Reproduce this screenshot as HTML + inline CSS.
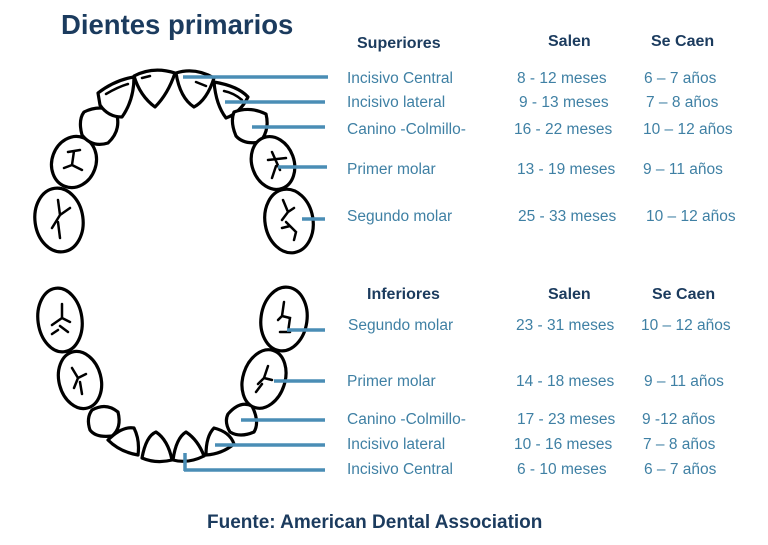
<!DOCTYPE html>
<html><head><meta charset="utf-8"><style>
body{margin:0;background:#fff;}
svg{display:block;}
.t{font-family:"Liberation Sans",sans-serif;font-size:15.5px;fill:#3f80a4;}
.h{font-family:"Liberation Sans",sans-serif;font-size:16px;font-weight:bold;fill:#1b3b5e;}
.tooth{fill:#fff;stroke:#000;stroke-width:3.2;stroke-linejoin:round;}
.c{fill:none;stroke:#000;stroke-width:2.5;stroke-linecap:round;}
.ln{stroke:#4a8db5;stroke-width:3.5;}
</style></head><body>
<svg width="768" height="545" viewBox="0 0 768 545">
<text x="61" y="34" style="font-family:'Liberation Sans',sans-serif;font-size:27.5px;font-weight:bold;fill:#1b3b5e">Dientes primarios</text>

<!-- upper teeth -->
<ellipse class="tooth" cx="59" cy="220" rx="24" ry="32" transform="rotate(-8 59 220)"/>
<path class="c" d="M58 200 L60 215 L52 228 M60 215 L70 208 M58 222 L60 238"/>
<ellipse class="tooth" cx="74" cy="162" rx="22" ry="26" transform="rotate(20 74 162)"/>
<path class="c" d="M68 152 L80 150 M74 151 L72 165 L64 168 M72 165 L82 170"/>
<path class="tooth" d="M84 112 Q100 104 116 112 Q122 130 108 143 Q92 148 82 135 Q78 120 84 112Z"/>
<path class="tooth" d="M98 93 Q115 80 134 77 Q134 100 122 117 Q108 117 100 105Z"/>
<path class="c" d="M106 94 Q118 87 128 84"/>
<path class="tooth" d="M134 76 Q153 66 175 73 Q168 94 155 107 Q140 96 134 76Z"/>
<path class="c" d="M142 78 L150 76"/>
<path class="tooth" d="M176 73 Q195 67 214 78 Q207 100 194 107 Q180 98 176 73Z"/>
<path class="c" d="M196 82 L206 86"/>
<path class="tooth" d="M214 82 Q238 86 248 97 Q240 113 226 118 Q216 105 214 82Z"/>
<path class="c" d="M224 91 Q234 93 242 100"/>
<path class="tooth" d="M234 112 Q250 106 266 114 Q270 130 260 142 Q244 145 236 136 Q230 122 234 112Z"/>
<ellipse class="tooth" cx="273" cy="163" rx="21" ry="27" transform="rotate(-20 273 163)"/>
<path class="c" d="M272 152 L280 170 M268 160 L286 158 M276 166 L272 178"/>
<ellipse class="tooth" cx="289" cy="221" rx="24" ry="32" transform="rotate(-10 289 221)"/>
<path class="c" d="M283 200 L288 212 L282 220 M288 212 L294 208 M286 222 L296 232 L294 240 M282 228 L290 226"/>

<!-- lower teeth -->
<ellipse class="tooth" cx="60" cy="320" rx="22" ry="32" transform="rotate(-8 60 320)"/>
<path class="c" d="M62 304 L62 318 L52 325 M62 318 L70 322 M60 326 L68 332 M58 330 L52 334"/>
<ellipse class="tooth" cx="80" cy="380" rx="21" ry="29" transform="rotate(-15 80 380)"/>
<path class="c" d="M72 368 L78 378 L74 388 M78 378 L86 374 M80 382 L82 394"/>
<path class="tooth" d="M92 410 Q106 402 118 412 Q122 428 112 436 Q96 438 90 430 Q86 418 92 410Z"/>
<path class="tooth" d="M108 440 Q122 426 134 428 Q140 440 138 455 Q120 452 108 440Z"/>
<path class="tooth" d="M142 458 Q146 436 156 432 Q168 440 172 460 Q156 464 142 458Z"/>
<path class="tooth" d="M173 460 Q176 438 186 432 Q198 440 204 456 Q188 464 173 460Z"/>
<path class="tooth" d="M206 455 Q206 436 214 428 Q230 432 234 444 Q222 454 206 455Z"/>
<path class="tooth" d="M228 414 Q240 400 252 406 Q260 422 254 432 Q240 438 230 432 Q224 422 228 414Z"/>
<ellipse class="tooth" cx="264" cy="379" rx="21" ry="30" transform="rotate(18 264 379)"/>
<path class="c" d="M268 366 L264 378 L258 384 M264 378 L272 380 M262 384 L256 392"/>
<ellipse class="tooth" cx="284" cy="319" rx="23" ry="32" transform="rotate(8 284 319)"/>
<path class="c" d="M284 302 L282 316 L278 320 M282 316 L290 318 L288 332 M280 332 L290 332"/>

<!-- leader lines -->
<line class="ln" x1="183" y1="77" x2="328" y2="77"/>
<line class="ln" x1="225" y1="102" x2="325" y2="102"/>
<line class="ln" x1="252" y1="127" x2="325" y2="127"/>
<line class="ln" x1="278" y1="167" x2="327" y2="167"/>
<line class="ln" x1="302" y1="219" x2="325" y2="219"/>
<line class="ln" x1="287" y1="330" x2="325" y2="330"/>
<line class="ln" x1="274" y1="381" x2="325" y2="381"/>
<line class="ln" x1="241" y1="420" x2="325" y2="420"/>
<line class="ln" x1="215" y1="445" x2="325" y2="445"/>
<line class="ln" x1="184" y1="470" x2="325" y2="470"/>
<line class="ln" x1="185" y1="453" x2="185" y2="471"/>

<!-- headers -->
<text class="h" x="357" y="48">Superiores</text>
<text class="h" x="548" y="46">Salen</text>
<text class="h" x="651" y="46">Se Caen</text>
<text class="h" x="367" y="299">Inferiores</text>
<text class="h" x="548" y="299">Salen</text>
<text class="h" x="652" y="299">Se Caen</text>

<!-- upper rows -->
<text class="t" x="347" y="83">Incisivo Central</text><text class="t" x="517" y="83">8 - 12 meses</text><text class="t" x="644" y="83">6 – 7 años</text>
<text class="t" x="347" y="107">Incisivo lateral</text><text class="t" x="519" y="107">9 - 13 meses</text><text class="t" x="646" y="107">7 – 8 años</text>
<text class="t" x="347" y="134">Canino -Colmillo-</text><text class="t" x="514" y="134">16 - 22 meses</text><text class="t" x="643" y="134">10 – 12 años</text>
<text class="t" x="347" y="174">Primer molar</text><text class="t" x="517" y="174">13 - 19 meses</text><text class="t" x="643" y="174">9 – 11 años</text>
<text class="t" x="347" y="221">Segundo molar</text><text class="t" x="518" y="221">25 - 33 meses</text><text class="t" x="646" y="221">10 – 12 años</text>

<!-- lower rows -->
<text class="t" x="348" y="330">Segundo molar</text><text class="t" x="516" y="330">23 - 31 meses</text><text class="t" x="641" y="330">10 – 12 años</text>
<text class="t" x="347" y="386">Primer molar</text><text class="t" x="516" y="386">14 - 18 meses</text><text class="t" x="644" y="386">9 – 11 años</text>
<text class="t" x="347" y="424">Canino -Colmillo-</text><text class="t" x="517" y="424">17 - 23 meses</text><text class="t" x="642" y="424">9 -12 años</text>
<text class="t" x="347" y="449">Incisivo lateral</text><text class="t" x="514" y="449">10 - 16 meses</text><text class="t" x="643" y="449">7 – 8 años</text>
<text class="t" x="347" y="474">Incisivo Central</text><text class="t" x="517" y="474">6 - 10 meses</text><text class="t" x="644" y="474">6 – 7 años</text>

<text x="207" y="528" style="font-family:'Liberation Sans',sans-serif;font-size:19px;font-weight:bold;fill:#1b3b5e">Fuente: American Dental Association</text>
</svg>
</body></html>
